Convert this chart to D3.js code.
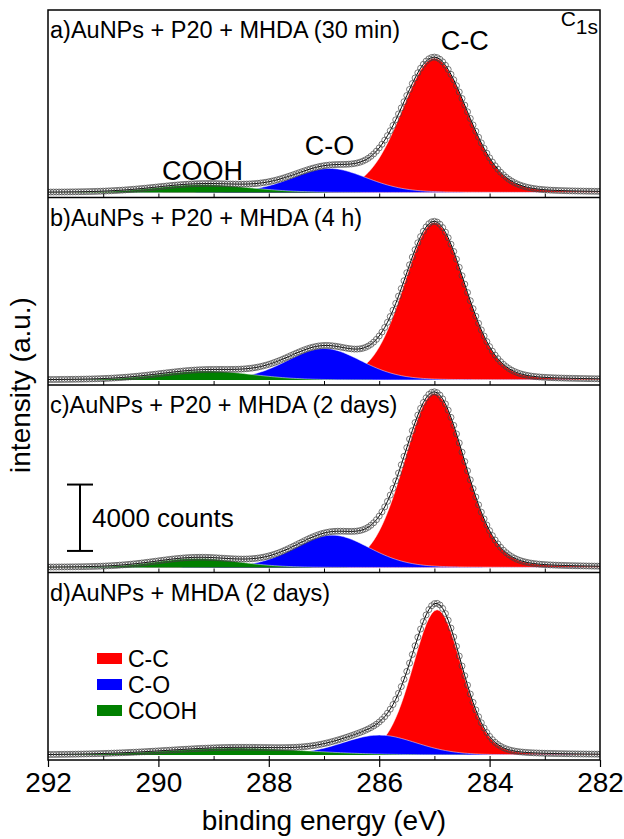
<!DOCTYPE html>
<html>
<head>
<meta charset="utf-8">
<script src="https://cdn.jsdelivr.net/npm/d3@7/dist/d3.min.js"></script>
<style>
  body { margin: 0; background: #fff; }
  text { font-family: "Liberation Sans", Arial, sans-serif; fill: #000; }
</style>
</head>
<body>
<svg id="chart"></svg>
<script>

// x axis (binding energy, eV)
var energyTicks = [292, 290, 288, 286, 284, 282];

var panelLabels = [
    'a)AuNPs + P20 + MHDA (30 min)',
    'b)AuNPs + P20 + MHDA (4 h)',
    'c)AuNPs + P20 + MHDA (2 days)',
    'd)AuNPs + MHDA (2 days)'
];

var components = ['C-C', 'C-O', 'COOH'];

// fitted peaks, one row per panel: [C-C, C-O, COOH]
var peakCenters = [
    [285.0, 286.9, 289.2],
    [285.0, 287.0, 289.15],
    [285.0, 286.85, 289.3],
    [284.95, 286.0, 288.6]
];
var peakHeights = [          // counts above baseline
    [8100, 1450, 480],
    [9500, 1900, 550],
    [10500, 1950, 550],
    [8750, 1200, 420]
];
var peakFwhm = [             // eV
    [1.4, 1.6, 2.0],
    [1.3, 1.6, 2.0],
    [1.3, 1.6, 1.8],
    [1.05, 1.6, 3.0]
];

var scaleBarCounts = 4000;

function render() {
    var w = 624;
    var h = 839;
    var d3 = window.d3;

    var colors = ['#ff0000', '#0000ff', '#008000'];
    var left = 48, right = 600, top = 10, bottom = 760;
    var panelH = (bottom - top) / panelLabels.length;
    var glMix = 0.15;

    var svg = d3.select('#chart').attr('width', w).attr('height', h);

    var x = d3.scaleLinear().domain([292, 282]).range([left, right]);

    // energy grid of the spectrometer
    var energies = d3.range(282, 292.001, 0.05);

    function peak(e, c, hgt, fw) {
        var t = (e - c) / fw;
        return hgt * ((1 - glMix) * Math.exp(-4 * Math.LN2 * t * t) + glMix / (1 + 4 * t * t));
    }

    panelLabels.forEach(function (label, i) {
        var y0 = top + i * panelH;
        var y1 = y0 + panelH;
        var y = d3.scaleLinear().domain([-300, 11000]).range([y1, y0]);

        var rows = energies.map(function (e) {
            var v = components.map(function (c, k) {
                return peak(e, peakCenters[i][k], peakHeights[i][k], peakFwhm[i][k]);
            });
            return { e: e, v: v, sum: d3.sum(v) };
        });

        svg.append('clipPath').attr('id', 'clip' + i)
            .append('rect').attr('x', left).attr('y', y0).attr('width', right - left).attr('height', panelH);

        var g = svg.append('g').attr('clip-path', 'url(#clip' + i + ')');

        // C-C first, then C-O, then COOH on top
        components.forEach(function (c, k) {
            var area = d3.area()
                .x(function (d) { return x(d.e); })
                .y0(y(0))
                .y1(function (d) { return y(d.v[k]); });
            g.append('path').datum(rows).attr('d', area).attr('fill', colors[k]);
            var edge = d3.line()
                .x(function (d) { return x(d.e); })
                .y(function (d) { return y(d.v[k]); });
            g.append('path').datum(rows).attr('d', edge)
                .attr('fill', 'none').attr('stroke', '#fff').attr('stroke-opacity', 0.6).attr('stroke-width', 0.8);
        });

        var env = d3.line()
            .x(function (d) { return x(d.e); })
            .y(function (d) { return y(d.sum); });
        g.append('path').datum(rows).attr('d', env)
            .attr('fill', 'none').attr('stroke', '#000').attr('stroke-width', 1);

        g.selectAll('.pt').data(rows).enter().append('circle')
            .attr('cx', function (d) { return x(d.e); })
            .attr('cy', function (d) { return y(d.sum); })
            .attr('r', 3)
            .attr('fill', 'none').attr('stroke', '#444').attr('stroke-width', 0.7);

        // small inward ticks at each panel bottom
        var minor = d3.axisBottom(x).tickValues(d3.range(283, 292, 1)).tickSize(-4).tickFormat('');
        var mg = svg.append('g').attr('transform', 'translate(0,' + y1 + ')').call(minor);
        mg.select('.domain').remove();
        mg.selectAll('line').attr('stroke', '#000');

        svg.append('text').attr('x', 50).attr('y', y0 + 28)
            .style('font-size', '23.5px').text(label);

        if (i === 2) {
            // scale bar
            var bx = 80, ya = y(1000), yb = y(1000 + scaleBarCounts);
            svg.append('line').attr('x1', bx).attr('x2', bx).attr('y1', ya).attr('y2', yb).attr('stroke', '#000').attr('stroke-width', 2);
            svg.append('line').attr('x1', bx - 13).attr('x2', bx + 13).attr('y1', ya).attr('y2', ya).attr('stroke', '#000').attr('stroke-width', 2);
            svg.append('line').attr('x1', bx - 13).attr('x2', bx + 13).attr('y1', yb).attr('y2', yb).attr('stroke', '#000').attr('stroke-width', 2);
            svg.append('text').attr('x', 92).attr('y', (ya + yb) / 2 + 9)
                .style('font-size', '26px').text(scaleBarCounts + ' counts');
        }

        if (i === 3) {
            components.forEach(function (c, k) {
                svg.append('rect').attr('x', 97).attr('y', 653 + k * 26).attr('width', 25).attr('height', 11).attr('fill', colors[k]);
                svg.append('text').attr('x', 128).attr('y', 667 + k * 26)
                    .style('font-size', '23px').text(c);
            });
        }

        if (i === 0) {
            svg.append('text').attr('x', x(284.45)).attr('y', 50).attr('text-anchor', 'middle')
                .style('font-size', '27px').text('C-C');
            svg.append('text').attr('x', x(286.9)).attr('y', 155).attr('text-anchor', 'middle')
                .style('font-size', '27px').text('C-O');
            svg.append('text').attr('x', x(289.2)).attr('y', 180).attr('text-anchor', 'middle')
                .style('font-size', '27px').text('COOH');
            var c1s = svg.append('text').attr('x', 598).attr('y', 26).attr('text-anchor', 'end').style('font-size', '21px');
            c1s.append('tspan').text('C');
            c1s.append('tspan').attr('dy', 8).text('1s');
        }
    });

    // frame and separators
    svg.append('rect').attr('x', left).attr('y', top).attr('width', right - left).attr('height', bottom - top)
        .attr('fill', 'none').attr('stroke', '#000').attr('stroke-width', 1.5);
    d3.range(1, panelLabels.length).forEach(function (k) {
        svg.append('line').attr('x1', left).attr('x2', right)
            .attr('y1', top + k * panelH).attr('y2', top + k * panelH)
            .attr('stroke', '#000').attr('stroke-width', 1.5);
    });

    var xAxis = d3.axisBottom(x).tickValues(energyTicks).tickSize(7).tickPadding(5).tickFormat(d3.format('d'));
    var ax = svg.append('g').attr('transform', 'translate(0,' + bottom + ')').call(xAxis);
    ax.select('.domain').remove();
    ax.selectAll('line').attr('stroke', '#000').attr('stroke-width', 1.2);
    ax.selectAll('text').style('font-size', '28px').attr('fill', '#000')
        .style('font-family', '"Liberation Sans", Arial, sans-serif');

    svg.append('text').attr('x', (left + right) / 2).attr('y', 830).attr('text-anchor', 'middle')
        .style('font-size', '28px').text('binding energy (eV)');

    svg.append('text').attr('transform', 'translate(30,' + ((top + bottom) / 2) + ') rotate(-90)')
        .attr('text-anchor', 'middle').style('font-size', '28px').text('intensity (a.u.)');
}

render();
</script>
</body>
</html>
